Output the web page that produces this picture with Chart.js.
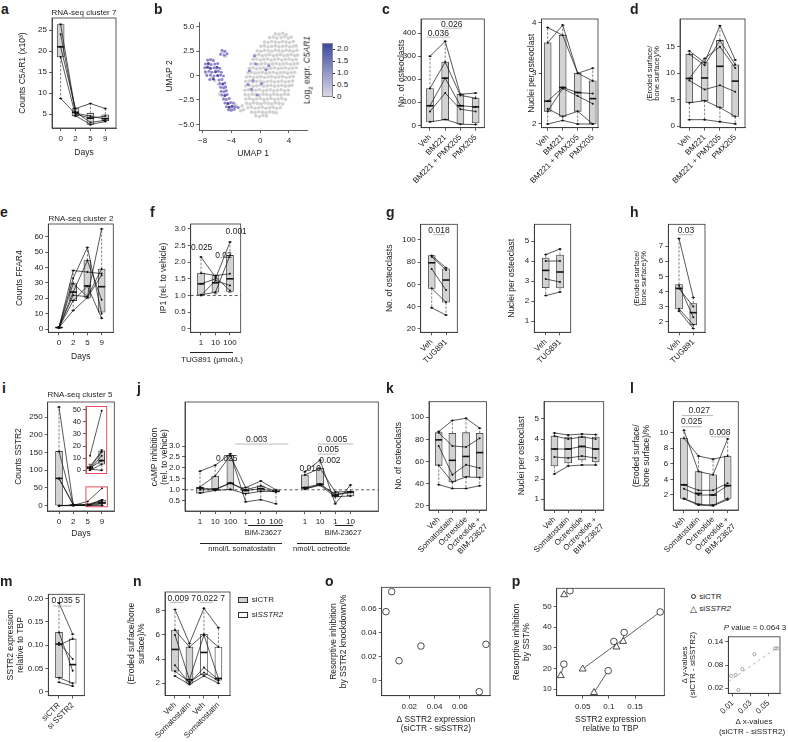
<!DOCTYPE html>
<html><head><meta charset="utf-8">
<script src="https://cdn.jsdelivr.net/npm/chart.js@4.4.0/dist/chart.umd.min.js"></script>
<style>
body{margin:0;background:#fff;}
#fig{position:relative;width:788px;height:742px;overflow:hidden;font-family:"Liberation Sans",Arial,sans-serif;color:#222;}
#fig canvas{position:absolute;}
.t{position:absolute;font-size:8px;white-space:nowrap;line-height:1;}
.L{position:absolute;font-weight:bold;font-size:14px;line-height:1;}
.hl{position:absolute;border-top:1px solid #222;height:0;}
</style></head><body><div id="fig"></div>
<script>
// ---------- data ----------
const dayPos = [1,2,3,4], dayLabels = ['0','2','5','9'];
const pos4 = [1,2,3,4], pos3 = [1,2,3], pos2 = [1,2];

// a: RNA-seq cluster 7 (C5AR1 counts x10^3), boxes = [min,q1,med,q3,max]
const aBoxes = [[8.7,18.6,21,26.3,26.4],[4.4,4.6,5.4,6.3,6.3],[2.4,2.5,4.0,5.2,7.5],[3.2,3.4,3.9,4.8,6.3]];
const aDonors = [[26.3,5.5,3.0,3.5],[24,5.2,4.5,3.8],[21,6.3,7.5,6.3],[18.6,4.6,2.5,3.2],[8.7,5.0,4.0,4.5]];

// b: UMAP
const umapGrey = [[2.1,4.3],[2.6,4.25],[3.1,4.35],[3.6,4.2],
 [1.3,3.9],[1.8,3.95],[2.3,3.85],[2.9,3.9],[3.4,4.0],[3.9,3.85],[4.3,3.95],
 [0.6,3.45],[1.1,3.4],[1.6,3.5],[2.1,3.45],[2.6,3.4],[3.1,3.5],[3.6,3.45],[4.1,3.4],[4.6,3.5],
 [0.1,3.0],[0.6,3.05],[1.1,2.95],[1.6,3.0],[2.1,3.05],[2.6,2.95],[3.1,3.0],[3.6,3.05],[4.1,2.95],[4.6,3.0],[5.0,3.05],
 [-0.4,2.55],[0.1,2.5],[0.6,2.6],[1.1,2.55],[1.6,2.5],[2.1,2.6],[2.6,2.55],[3.1,2.5],[3.6,2.6],[4.1,2.55],[4.6,2.5],[5.1,2.6],
 [-0.7,2.1],[-0.2,2.15],[0.3,2.05],[0.8,2.1],[1.3,2.15],[1.8,2.05],[2.3,2.1],[2.8,2.15],[3.3,2.05],[3.8,2.1],[4.3,2.15],[4.8,2.05],[5.2,2.1],
 [-1.0,1.65],[-0.5,1.7],[0.0,1.6],[0.5,1.65],[1.0,1.7],[1.5,1.6],[2.0,1.65],[2.5,1.7],[3.0,1.6],[3.5,1.65],[4.0,1.7],[4.5,1.6],[5.0,1.65],
 [-1.3,1.2],[-0.8,1.25],[-0.3,1.15],[0.2,1.2],[0.7,1.25],[1.2,1.15],[1.7,1.2],[2.2,1.25],[2.7,1.15],[3.2,1.2],[3.7,1.25],[4.2,1.15],[4.7,1.2],[5.2,1.25],
 [-1.5,0.75],[-1.0,0.8],[-0.5,0.7],[0.0,0.75],[0.5,0.8],[1.0,0.7],[1.5,0.75],[2.0,0.8],[2.5,0.7],[3.0,0.75],[3.5,0.8],[4.0,0.7],[4.5,0.75],[5.0,0.8],
 [-1.7,0.3],[-1.2,0.35],[-0.7,0.25],[-0.2,0.3],[0.3,0.35],[0.8,0.25],[1.3,0.3],[1.8,0.35],[2.3,0.25],[2.8,0.3],[3.3,0.35],[3.8,0.25],[4.3,0.3],[4.8,0.35],
 [-1.9,-0.15],[-1.4,-0.1],[-0.9,-0.2],[-0.4,-0.15],[0.1,-0.1],[0.6,-0.2],[1.1,-0.15],[1.6,-0.1],[2.1,-0.2],[2.6,-0.15],[3.1,-0.1],[3.6,-0.2],[4.1,-0.15],[4.6,-0.1],
 [-2.0,-0.6],[-1.5,-0.55],[-1.0,-0.65],[-0.5,-0.6],[0.0,-0.55],[0.5,-0.65],[1.0,-0.6],[1.5,-0.55],[2.0,-0.65],[2.5,-0.6],[3.0,-0.55],[3.5,-0.65],[4.0,-0.6],[4.5,-0.55],
 [-2.0,-1.05],[-1.5,-1.0],[-1.0,-1.1],[-0.5,-1.05],[0.0,-1.0],[0.5,-1.1],[1.0,-1.05],[1.5,-1.0],[2.0,-1.1],[2.5,-1.05],[3.0,-1.0],[3.5,-1.1],[4.0,-1.05],[4.4,-1.0],
 [-2.1,-1.5],[-1.6,-1.45],[-1.1,-1.55],[-0.6,-1.5],[-0.1,-1.45],[0.4,-1.55],[0.9,-1.5],[1.4,-1.45],[1.9,-1.55],[2.4,-1.5],[2.9,-1.45],[3.4,-1.55],[3.9,-1.5],
 [-2.1,-1.95],[-1.6,-2.0],[-1.1,-1.9],[-0.6,-1.95],[-0.1,-2.0],[0.4,-1.9],[0.9,-1.95],[1.4,-2.0],[1.9,-1.9],[2.4,-1.95],[2.9,-2.0],[3.4,-1.9],[3.9,-1.95],
 [-2.0,-2.4],[-1.5,-2.35],[-1.0,-2.45],[-0.5,-2.4],[0.0,-2.35],[0.5,-2.45],[1.0,-2.4],[1.5,-2.35],[2.0,-2.45],[2.5,-2.4],[3.0,-2.35],[3.5,-2.45],
 [-1.9,-2.85],[-1.4,-2.9],[-0.9,-2.8],[-0.4,-2.85],[0.1,-2.9],[0.6,-2.8],[1.1,-2.85],[1.6,-2.9],[2.1,-2.8],[2.6,-2.85],[3.1,-2.9],
 [-1.7,-3.3],[-1.2,-3.25],[-0.7,-3.35],[-0.2,-3.3],[0.3,-3.25],[0.8,-3.35],[1.3,-3.3],[1.8,-3.25],[2.3,-3.35],[2.8,-3.3],
 [-1.2,-3.75],[-0.7,-3.8],[-0.2,-3.7],[0.3,-3.75],[0.8,-3.8],[1.3,-3.7],[1.8,-3.75],[2.2,-3.8],
 [-0.6,-4.15],[-0.1,-4.2],[0.4,-4.1],[0.9,-4.15],
 [-2.5,-3.1],[-3.0,-3.3],[-2.7,-3.6],[-3.4,-3.0],[-2.3,-3.5],[-7.2,1.1],[-6.6,1.6],[-6.1,0.6],[-6.7,-0.2],[-5.8,-0.9],
 [-5.2,2.4],[-4.8,2.0],[-5.6,-1.9],[-4.4,-2.9],[-3.8,-3.4],[-4.9,-1.3],[-7.5,0.2],[-6.3,-0.5],[-5.0,-2.4],[-4.2,-3.5]];
const umapPurple = [[-5.3,2.6],[-4.9,2.5],[-5.0,2.1],[-4.6,2.25],[-5.5,2.2],
 [-7.3,1.6],[-6.9,1.65],[-6.5,1.55],[-7.6,1.2],[-6.8,1.15],[-6.3,1.2],[-5.9,1.25],
 [-7.7,0.8],[-6.4,0.8],[-5.6,0.75],[-7.6,0.4],[-7.1,0.45],[-6.7,0.35],[-5.8,0.45],[-5.4,0.35],
 [-7.4,0.0],[-6.9,0.05],[-6.4,-0.05],[-5.5,0.05],[-5.1,-0.05],[-7.0,-0.4],[-5.7,-0.45],[-5.3,-0.4],
 [-5.6,-0.8],[-4.9,-0.75],[-5.5,-1.2],[-5.1,-1.25],[-4.8,-1.15],[-5.4,-1.6],[-5.0,-1.65],[-4.7,-1.55],
 [-5.3,-2.0],[-4.6,-1.95],[-5.1,-2.4],[-4.7,-2.45],[-4.3,-2.35],[-4.9,-2.8],[-4.1,-2.75],[-3.7,-2.8],
 [-4.7,-3.2],[-3.5,-3.2],[-3.1,-3.25],[-4.4,-3.5],[-4.0,-3.55],[-3.6,-3.45],
 [-1.5,0.5],[-1.0,-0.5],[-0.6,1.2],[-1.2,-1.4],[0.8,0.6],[-0.4,-2.0],[-1.7,-0.9],[0.2,-0.8],[1.2,1.0],[-0.8,2.0]];
const umapPurpleDk = [[-7.2,1.25],[-6.9,0.75],[-6.2,0.4],[-5.9,0.0],[-6.5,-0.35],[-5.2,-0.85],[-4.9,-2.05],
 [-4.5,-2.85],[-4.3,-3.25],[-3.9,-3.15],[-7.3,0.85],[-6.0,0.85]];

// c
const cLabels = ['Veh','BM221','BM221 + PMX205','PMX205'];
const cOcBoxes = [[15,15,85,160,300],[25,25,205,275,365],[5,5,85,135,135],[3,10,80,118,140]];
const cOcDonors = [[300,365,135,140],[160,275,130,118],[85,205,85,80],[60,140,70,60],[15,25,5,3]];
const cNuBoxes = [[2.0,2.25,2.45,3.6,3.9],[2.07,2.15,2.72,3.75,3.95],[2.0,2.25,2.62,3.0,3.0],[2.0,2.0,2.5,2.85,3.1]];
const cNuDonors = [[3.9,3.75,3.0,3.1],[3.6,3.95,3.0,2.85],[2.45,2.72,2.62,2.6],[2.25,2.7,2.55,2.4],[2.0,2.07,2.0,2.0],[2.3,2.15,2.25,2.0]];
// d
const dBoxes = [[1.2,4.4,9.0,13.6,14.2],[1.2,4.8,9.1,12.0,12.8],[0.8,3.5,11.3,16.2,19.0],[0.4,1.8,8.5,11.6,12.5]];
const dDonors = [[14.2,12.0,19.0,12.5],[13.6,11.5,16.2,11.6],[9.0,12.8,15.0,11.0],[8.6,6.9,7.7,6.5],[4.4,4.8,3.5,1.8],[1.2,1.2,0.8,0.4]];
// e
const eBoxes = [[0.5,0.8,1,1.3,1.5],[12,18.5,24,29.5,38],[20,20.5,28,44.5,53],[7,11,27.5,39,65]];
const eDonors = [[1,38,37,36],[1,33,53,10],[1,29.5,21,65],[1,24,44.5,19],[1,22,21,39],[1,18.5,28,7],[1,12,20.5,35]];
// f
const fLabels = ['1','10','100'];
const fBoxes = [[1.0,1.02,1.35,1.67,2.15],[1.05,1.1,1.38,1.6,1.6],[1.1,1.12,1.5,2.2,2.6]];
const fDonors = [[2.15,1.55,1.15],[1.67,1.6,1.65],[1.35,1.5,2.6],[1.02,1.1,2.2],[1.0,1.45,1.3]];
// g, h
const gLabels = ['Veh','TUG891'];
const gOcBoxes = [[39,56.5,79.5,86,86],[32.5,44,64,74,75]];
const gOcDonors = [[86,75],[85,73],[74,55],[56.5,44],[39,32.5]];
const gNuBoxes = [[2.27,2.67,3.53,4.15,4.32],[2.45,2.65,3.45,4.3,4.6]];
const gNuDonors = [[4.32,4.6],[4.0,4.0],[3.1,2.95],[2.27,2.45]];
const hBoxes = [[2.7,2.85,4.2,4.45,7.5],[1.55,1.8,2.6,3.2,3.6]];
const hDonors = [[7.5,3.6],[4.4,2.3],[4.2,3.0],[2.85,1.8],[2.7,1.55]];
// i
const iBoxes = [[0,0,77,153,278],[0,0.5,1.5,2.5,3.5],[0,1,2,3.5,5],[0,5,8,16,17]];
const iDonors = [[278,1,12,49],[153,2,3,16],[77,3,2,15],[77,1,1,12],[0,0,2,8],[0,2,0,5],[0,1,1,0]];
const iInsetPos = [3,4];
const iInsetBoxes = [[0,1,2,3.5,5],[0,5,8,16,17]];
const iInsetDonors = [[12,49],[3,16],[2,15],[1,12],[2,8],[0,5],[1,0]];
// j
const jPos = [1,2,3,4,5,6,7.9,8.9,9.9,10.9];
const jLabels = ['1','10','100','1','10','100','1','10','1','10'];
const jBoxes = [[0.85,0.85,1.08,1.13,1.85],[0.97,1.0,1.03,1.63,2.12],[1.0,1.02,1.3,2.57,2.65],[0.45,0.82,0.97,1.1,1.1],[0.55,0.93,1.05,1.18,1.4],
  [0.36,0.9,0.93,1.0,1.0],[1.03,1.05,1.1,1.68,1.82],[1.2,1.2,1.26,1.98,2.35],[0.36,0.68,0.75,0.9,0.9],[0.72,0.72,0.9,0.92,1.22]];
const jSstDonors = [[1.85,2.12,2.65,0.45,0.55,0.36],[1.13,1.63,2.57,1.1,1.4,1.0],[1.08,1.03,1.32,1.0,1.18,0.93],[1.0,1.0,1.3,0.97,1.05,0.9],[0.85,0.97,1.02,0.82,0.93,0.92]];
const jOctDonors = [[1.82,2.35,0.36,1.22],[1.68,1.98,0.9,0.92],[1.1,1.26,0.75,0.9],[1.05,1.2,0.68,0.72],[1.03,1.25,0.8,0.88]];
// k, l
const kLabels = ['Veh','Somatostatin','Octreotide',['Octreotide +','BIM-23627']];
const kOcBoxes = [[39,56.5,79.5,86,87],[35.5,41.5,61,85.5,97],[35.5,46,64.5,86,99],[38,45.5,68,85.5,90]];
const kOcDonors = [[87,97,99,90],[86,74,73,81],[74,48,57,54],[56.5,41.5,46,45.5],[39,35.5,35.5,38]];
const kNuBoxes = [[2.25,2.65,3.5,4.15,4.3],[2.65,2.8,3.5,4.1,4.2],[2.7,2.95,3.63,4.12,4.25],[2.7,2.85,3.5,4.1,4.22]];
const kNuDonors = [[4.3,4.2,4.25,4.22],[4.15,4.0,4.1,4.0],[3.1,3.05,3.15,3.05],[2.25,2.65,2.7,2.7],[3.5,3.5,3.63,3.5]];
const lBoxes = [[1.5,1.55,3.3,9.3,10.3],[0.7,0.8,2.2,5.0,7.0],[0.6,0.7,2.0,4.6,6.6],[1.4,1.55,3.2,7.0,9.2]];
const lDonors = [[10.3,5.0,4.6,9.2],[9.3,7.0,6.6,7.0],[3.3,2.6,2.6,3.5],[2.8,2.0,2.0,3.2],[1.55,0.8,0.7,1.55],[1.5,0.7,0.6,1.4]];
// m, n
const mLabels = ['siCTR','si SSTR2'];
const mBoxes = [[0.02,0.03,0.102,0.127,0.19],[0.012,0.018,0.058,0.113,0.123]];
const mDonors = [[0.19,0.123],[0.127,0.045],[0.105,0.07],[0.10,0.113],[0.03,0.018],[0.02,0.012]];
const nLabels = ['Veh','Somatostatin','Veh','Somatostatin'];
const nBoxes = [[2.6,3.0,4.8,6.4,8.1],[1.9,2.0,2.3,5.0,5.3],[2.6,2.7,4.55,6.05,8.2],[2.0,2.25,2.4,5.0,6.6]];
const nDonors = [[8.1,5.3,8.2,6.6],[6.4,5.0,6.05,5.0],[6.0,2.3,6.0,2.4],[3.5,2.0,3.3,2.3],[3.0,2.1,2.9,2.2],[2.6,1.9,2.6,2.0]];
// o, p
const oX = [0.0061,0.0016,0.0119,0.0292,0.0806,0.0753];
const oY = [0.0739,0.0573,0.0166,0.0288,0.0302,-0.0091];
const pCtrX = [0.0258,0.0141,0.0987,0.1096,0.1292,0.198];
const pCtrY = [57.7,22.1,18.9,33.1,37.5,47.4];
const pKdX = [0.0146,0.0082,0.0716,0.1146,0.1273,0.05];
const pKdY = [55.8,16.5,8.3,30.4,33.1,19.7];
const pInsX = [0.0575,0.060,0.0343,0.0208,0.0134,0.0081,0.0163];
const pInsY = [0.123,0.123,0.1075,0.0696,0.0542,0.0524,0.0155];
const pFitX = [0.0051,0.0612], pFitY = [0.037,0.127];

// ---------- drawing ----------
const FONT = '"Liberation Sans", Arial, sans-serif';
Chart.defaults.font.family = FONT;
Chart.defaults.font.size = 8;
Chart.defaults.color = '#222';
const fig = document.getElementById('fig');
const GREY = '#d3d3d3';

function canvasAt(x,y,w,h){
  const c=document.createElement('canvas');
  c.width=w; c.height=h;
  Object.assign(c.style,{left:x+'px',top:y+'px',width:w+'px',height:h+'px'});
  fig.appendChild(c); return c;
}
function ln(g,x1,y1,x2,y2){ g.beginPath(); g.moveTo(x1,y1); g.lineTo(x2,y2); g.stroke(); }

function deco(p){
  const bw=p.bw||7;
  return {id:'deco',
    beforeDatasetsDraw(c){
      const g=c.ctx,X=c.scales.x,Y=c.scales.y,a=c.chartArea;
      g.save(); g.lineWidth=0.8; g.strokeStyle='#333';
      (p.hl||[]).forEach(v=>{ g.setLineDash([3,2.5]); const y=Y.getPixelForValue(v); ln(g,a.left,y,a.right,y); });
      (p.box||[]).forEach((b,i)=>{
        const x=X.getPixelForValue(p.pos[i]);
        g.setLineDash([2.5,1.5]); g.strokeStyle='#666';
        ln(g,x,Y.getPixelForValue(b[3]),x,Y.getPixelForValue(b[4]));
        ln(g,x,Y.getPixelForValue(b[1]),x,Y.getPixelForValue(b[0]));
        g.setLineDash([]); g.strokeStyle='#333';
        [b[0],b[4]].forEach(v=>{ const y=Y.getPixelForValue(v); ln(g,x-bw/4,y,x+bw/4,y); });
      });
      g.restore();
    },
    afterDatasetsDraw(c){
      const g=c.ctx,X=c.scales.x,Y=c.scales.y,a=c.chartArea;
      g.save();
      g.strokeStyle='#111'; g.lineWidth=1.6;
      (p.box||[]).forEach((b,i)=>{ const x=X.getPixelForValue(p.pos[i]),y=Y.getPixelForValue(b[2]); ln(g,x-bw/2,y,x+bw/2,y); });
      if(p.frame!==false){ g.strokeStyle=p.frameColor||'#333'; g.lineWidth=p.frameW||0.8; g.strokeRect(a.left,a.top,a.right-a.left,a.bottom-a.top); }
      (p.rects||[]).forEach(r=>{ g.strokeStyle='#e0505a'; g.lineWidth=1;
        const x1=X.getPixelForValue(r[0]),x2=X.getPixelForValue(r[1]),y1=Y.getPixelForValue(r[3]),y2=Y.getPixelForValue(r[2]);
        g.strokeRect(x1,y1,x2-x1,y2-y1); });
      g.strokeStyle='#9a9a9a'; g.lineWidth=0.7;
      (p.segs||[]).forEach(s=>{ const y=Y.getPixelForValue(s[2]); ln(g,X.getPixelForValue(s[0]),y,X.getPixelForValue(s[1]),y); });
      g.fillStyle='#222'; g.font='8.5px '+FONT; g.textAlign='center'; g.textBaseline='middle';
      (p.texts||[]).forEach(t=>g.fillText(t[0],X.getPixelForValue(t[1]),Y.getPixelForValue(t[2])));
      g.restore();
    }};
}

function panel(p){
  const [L,T,R,B]=p.plot;
  const cv=canvasAt(p.cx,p.cy,p.cw,p.ch);
  const bottom=p.cy+p.ch;
  const mk=(a,isX)=>{
    const fs=a.fs||8, lh=a.lh||9.5;
    const s={type:'linear',min:a.min,max:a.max,offset:false,
      afterBuildTicks:sc=>{ sc.ticks=(a.ticks||[]).map(v=>({value:v})); },
      afterFit:isX?(sc=>{ sc.height=bottom-B; }):(sc=>{ sc.width=L-p.cx; }),
      ticks:{display:!a.hide,autoSkip:false,maxRotation:a.rot||0,minRotation:a.rot||0,padding:a.pad??2,color:'#222',
        font:{size:fs},callback:(v,i)=>a.labels[i]},
      grid:{display:!a.hide,drawOnChartArea:false,drawTicks:true,tickLength:3,color:a.col||'#333',lineWidth:0.8,offset:false},
      border:{display:!a.hide,color:a.col||'#333',width:0.8}};
    if(a.title){
      const n=Array.isArray(a.title)?a.title.length:1;
      s.title={display:true,text:a.title,color:'#222',font:{size:a.tfs||8.5,lineHeight:lh+'px'},
        padding:isX?{top:0,bottom:bottom-a.tpos-lh*(n-1)-lh/2}:{top:a.tpos-p.cx-lh/2,bottom:0}};
    }
    return s;
  };
  return new Chart(cv,{type:p.type||'bar',data:{datasets:p.datasets},
    options:{responsive:false,devicePixelRatio:1,animation:false,events:[],
      layout:{autoPadding:false,padding:{left:0,top:T-p.cy,right:p.cx+p.cw-R,bottom:0}},
      scales:{x:mk(p.x,true),y:mk(p.y,false)},
      plugins:{legend:{display:false},tooltip:{enabled:false}}},
    plugins:[deco(p)]});
}

function lineSet(xs,ys,extra){
  return Object.assign({type:'line',data:ys.map((v,i)=>({x:xs[i],y:v})),borderColor:'#111',borderWidth:0.7,
    pointRadius:1,pointBackgroundColor:'#111',pointBorderWidth:0,order:1},extra||{});
}
function boxPanel(p){
  const ds=[{type:'bar',data:p.box.map((b,i)=>({x:p.pos[i],y:[b[1],b[3]]})),backgroundColor:p.fill||GREY,
    borderColor:'#333',borderWidth:0.8,borderSkipped:false,barThickness:p.bw||7,grouped:false,order:3}];
  (p.lines||[[p.pos,p.donors]]).forEach(([ps,dn])=>dn.forEach(d=>ds.push(lineSet(ps,d))));
  p.datasets=ds; p.type='bar';
  return panel(p);
}
const pts=(xs,ys)=>xs.map((x,i)=>({x,y:ys[i]}));
const pairs=arr=>arr.map(([x,y])=>({x,y}));

// HTML text helpers
function txt(s,x,y,o={}){
  const d=document.createElement('div'); d.className='t'; d.innerHTML=s;
  d.style.left=x+'px'; d.style.top=y+'px'; d.style.fontSize=(o.fs||8)+'px';
  let tr=o.al==='l'?'translate(0,-50%)':'translate(-50%,-50%)';
  if(o.rot) tr+=' rotate(-90deg)';
  d.style.transform=tr; fig.appendChild(d); return d;
}
function letter(ch,x,base){ const d=document.createElement('div'); d.className='L'; d.textContent=ch; d.style.left=x+'px'; d.style.top=(base-11.9)+'px'; fig.appendChild(d); }
function hline(x1,x2,y){ const d=document.createElement('div'); d.className='hl'; Object.assign(d.style,{left:x1+'px',top:y+'px',width:(x2-x1)+'px'}); fig.appendChild(d); }

// ---- a
boxPanel({plot:[52,18,116,128],cx:18,cy:10,cw:104,ch:149,pos:dayPos,box:aBoxes,donors:aDonors,
  x:{min:0.42,max:4.72,ticks:dayPos,labels:dayLabels,pad:3,title:'Days',tpos:153},
  y:{min:1.67,max:27.86,ticks:[5,10,15,20,25],labels:['5','10','15','20','25'],title:'Counts C5AR1 (x10³)',tpos:23}});
// ---- b
panel({type:'scatter',plot:[199.3,22,307,130],cx:165,cy:15,cw:145,ch:144,frame:false,
  datasets:[
    {data:pairs(umapGrey),pointRadius:1.8,pointBackgroundColor:'#d2d2d2',pointBorderWidth:0,order:3},
    {data:pairs(umapPurple),pointRadius:1.5,pointBackgroundColor:'#8d84cc',pointBorderWidth:0,order:2},
    {data:pairs(umapPurpleDk),pointRadius:1.5,pointBackgroundColor:'#5049a8',pointBorderWidth:0,order:1}],
  x:{min:-8.45,max:6.5,ticks:[-8,-4,0,4],labels:['−8','−4','0','4'],pad:3,title:'UMAP 1',tpos:153.3},
  y:{min:-5.58,max:5.5,ticks:[-5,-2.5,0,2.5,5],labels:['−5.0','−2.5','0','2.5','5.0'],title:'UMAP 2',tpos:170}});
// ---- c
boxPanel({plot:[421,19,484.3,127.7],cx:396,cy:10,cw:94,ch:175,pos:pos4,box:cOcBoxes,donors:cOcDonors,
  texts:[['0.036',1.55,400],['0.026',2.43,439]],segs:[[0.78,2.32,383],[1.88,3.09,422]],
  x:{min:0.41,max:4.57,ticks:pos4,labels:cLabels,rot:45,pad:2},
  y:{min:-10.4,max:462,ticks:[0,100,200,300,400],labels:['0','100','200','300','400'],title:'No. of osteoclasts',tpos:401.7}});
boxPanel({plot:[541.5,19,598,127.7],cx:526,cy:10,cw:78,ch:175,pos:pos4,box:cNuBoxes,donors:cNuDonors,
  x:{min:0.59,max:4.35,ticks:pos4,labels:cLabels,rot:45,pad:2},
  y:{min:1.927,max:4.07,ticks:[2,3,4],labels:['2','3','4'],title:'Nuclei per osteoclast',tpos:531.7}});
// ---- d
boxPanel({plot:[680,19,745,127.7],cx:645,cy:10,cw:107,ch:175,pos:pos4,box:dBoxes,donors:dDonors,
  x:{min:0.39,max:4.64,ticks:pos4,labels:cLabels,rot:45,pad:2},
  y:{min:-0.32,max:20.26,ticks:[0,5,10,15],labels:['0','5','10','15'],title:['(Eroded surface/','bone surface)/%'],tpos:650,lh:7,tfs:7.5}});
// ---- e
boxPanel({plot:[48.3,224,113.3,332.3],cx:15,cy:215,cw:105,ch:147,pos:dayPos,box:eBoxes,donors:eDonors,
  x:{min:0.25,max:4.82,ticks:dayPos,labels:dayLabels,pad:3,title:'Days',tpos:356.7},
  y:{min:-2.1,max:68.2,ticks:[0,10,20,30,40,50,60],labels:['0','10','20','30','40','50','60'],title:'Counts FFAR4',tpos:20}});
// ---- f
boxPanel({plot:[190.7,224,240.7,332.3],cx:158,cy:215,cw:88,ch:140,pos:pos3,box:fBoxes,donors:fDonors,hl:[1],
  texts:[['0.025',1.05,2.44],['0.02',2.55,2.19],['0.001',3.43,2.9]],
  x:{min:0.29,max:3.74,ticks:pos3,labels:fLabels,pad:3},
  y:{min:-0.1,max:3.14,ticks:[0,0.5,1,1.5,2,2.5,3],labels:['0','0.5','1.0','1.5','2.0','2.5','3.0'],title:'IP1 (rel. to vehicle)',tpos:163.3}});
// ---- g
boxPanel({plot:[420.7,224.3,457.3,332.3],cx:385,cy:215,cw:78,ch:175,pos:pos2,box:gOcBoxes,donors:gOcDonors,
  texts:[['0.018',1.51,108.4]],segs:[[1.11,1.93,104.8]],
  x:{min:0.23,max:2.79,ticks:pos2,labels:gLabels,rot:45,pad:2},
  y:{min:17,max:114.1,ticks:[20,40,60,80,100],labels:['20','40','60','80','100'],title:'No. of osteoclasts',tpos:390}});
boxPanel({plot:[534.3,224.3,570.7,332.3],cx:506,cy:215,cw:70,ch:175,pos:pos2,box:gNuBoxes,donors:gNuDonors,
  x:{min:0.2,max:2.75,ticks:pos2,labels:gLabels,rot:45,pad:2},
  y:{min:0.435,max:5.835,ticks:[1,2,3,4,5],labels:['1','2','3','4','5'],title:'Nuclei per osteoclast',tpos:511.7}});
// ---- h
boxPanel({plot:[668.3,224.3,705,332.3],cx:632,cy:215,cw:80,ch:175,pos:pos2,box:hBoxes,donors:hDonors,
  texts:[['0.03',1.49,8.01]],segs:[[0.95,1.96,7.75]],
  x:{min:0.25,max:2.82,ticks:pos2,labels:gLabels,rot:45,pad:2},
  y:{min:1.3,max:8.44,ticks:[2,3,4,5,6,7],labels:['2','3','4','5','6','7'],title:['(Eroded surface/','bone surface)/%'],tpos:636.7,lh:7,tfs:7.5}});
// ---- i
boxPanel({plot:[47.7,402,114.3,511],cx:13,cy:392,cw:107,ch:148,pos:dayPos,box:iBoxes,donors:iDonors,
  rects:[[2.88,4.38,-3,53]],
  x:{min:0.21,max:4.86,ticks:dayPos,labels:dayLabels,pad:3,title:'Days',tpos:534},
  y:{min:-15,max:292.4,ticks:[0,50,100,150,200,250],labels:['0','50','100','150','200','250'],title:'Counts SSTR2',tpos:18.3}});
boxPanel({plot:[86,405,106.7,476.7],cx:70,cy:400,cw:40,ch:80,pos:iInsetPos,box:iInsetBoxes,donors:iInsetDonors,
  frameColor:'#e0505a',frameW:1,bw:6,
  x:{min:2.66,max:4.43,ticks:[],labels:[],hide:true},
  y:{min:-2.6,max:52.5,ticks:[0,10,20,30,40,50],labels:['0','10','20','30','40','50'],fs:7.5}});
// ---- j
boxPanel({plot:[185,402,378.3,511],cx:151,cy:392,cw:233,ch:140,pos:jPos,box:jBoxes,hl:[1],
  lines:[[jPos.slice(0,6),jSstDonors],[jPos.slice(6),jOctDonors]],
  texts:[['0.003',4.73,3.31],['0.025',2.76,2.44],['0.016',8.24,1.98],['0.002',9.55,2.33],['0.005',9.44,2.85],['0.005',9.99,3.31]],
  segs:[[3.3,6.81,3.09],[8.76,9.99,2.63],[8.76,11.09,3.09]],
  x:{min:0.013,max:12.73,ticks:jPos,labels:jLabels,pad:3},
  y:{min:0.032,max:5.01,ticks:[0.5,1,1.5,2,2.5,3],labels:['0.5','1.0','1.5','2.0','2.5','3.0']}});
// ---- k
boxPanel({plot:[429,401.7,490,510],cx:393,cy:392,cw:103,ch:180,pos:pos4,box:kOcBoxes,donors:kOcDonors,
  x:{min:0.29,max:4.5,ticks:pos4,labels:kLabels,rot:45,pad:2},
  y:{min:16.1,max:114,ticks:[20,40,60,80,100],labels:['20','40','60','80','100'],title:'No. of osteoclasts',tpos:398.3}});
boxPanel({plot:[544,401.7,606.7,510],cx:516,cy:392,cw:96,ch:180,pos:pos4,box:kNuBoxes,donors:kNuDonors,
  x:{min:0.24,max:4.58,ticks:pos4,labels:kLabels,rot:45,pad:2},
  y:{min:0.45,max:5.865,ticks:[1,2,3,4,5],labels:['1','2','3','4','5'],title:'Nuclei per osteoclast',tpos:521.7}});
// ---- l
boxPanel({plot:[673.3,401.7,738.3,510],cx:631,cy:392,cw:114,ch:180,pos:pos4,box:lBoxes,donors:lDonors,
  texts:[['0.027',2.05,12.8],['0.025',1.53,11.4],['0.008',3.47,10.04]],segs:[[0.84,3.0,12.2],[0.84,2.21,10.76],[2.85,4.15,9.47]],
  x:{min:0.27,max:4.73,ticks:pos4,labels:kLabels,rot:45,pad:2},
  y:{min:0.07,max:13.98,ticks:[2,4,6,8,10],labels:['2','4','6','8','10'],title:['(Eroded surface/','bone surface)/%'],tpos:636.7,lh:10}});
// ---- m
boxPanel({plot:[48.3,594.3,84.3,695.7],cx:4,cy:585,cw:86,ch:157,pos:pos2,box:mBoxes,donors:mDonors,fill:[GREY,'#ffffff'],
  texts:[['0.035 5',1.49,0.1949]],segs:[[0.58,1.93,0.1835]],
  x:{min:0.22,max:2.85,ticks:pos2,labels:mLabels,rot:45,pad:2},
  y:{min:-0.0086,max:0.2086,ticks:[0,0.05,0.1,0.15,0.2],labels:['0','0.05','0.10','0.15','0.20'],title:['SSTR2 expression','relative to TBP'],tpos:10.5,lh:10.5}});
// ---- n
boxPanel({plot:[165,592,230,695.5],cx:126,cy:585,cw:110,ch:157,pos:pos4,box:nBoxes,donors:nDonors,fill:[GREY,GREY,'#ffffff','#ffffff'],
  texts:[['0.009 7',1.47,9.02],['0.022 7',3.48,9.02]],segs:[[0.65,1.58,8.69],[2.74,3.62,8.69]],
  x:{min:0.31,max:4.8,ticks:pos4,labels:nLabels,rot:45,pad:2},
  y:{min:0.99,max:9.55,ticks:[2,4,6,8],labels:['2','4','6','8'],title:['(Eroded surface/bone','surface)/%'],tpos:131.7,lh:10}});
// ---- o
panel({type:'scatter',plot:[381.7,587.3,490,695.7],cx:328,cy:580,cw:168,ch:154,
  datasets:[{data:pts(oX,oY),pointRadius:3.3,pointBackgroundColor:'rgba(0,0,0,0)',pointBorderColor:'#222',pointBorderWidth:0.8}],
  x:{min:-0.0018,max:0.0838,ticks:[0.02,0.04,0.06],labels:['0.02','0.04','0.06'],pad:3,title:['Δ SSTR2 expression','(siCTR - siSSTR2)'],tpos:720,lh:8.5},
  y:{min:-0.0124,max:0.0775,ticks:[0,0.02,0.04,0.06],labels:['0','0.02','0.04','0.06'],title:['Resorptive inhibition','by SSTR2 knockdown/%'],tpos:333.3,lh:10}});
// ---- p
const pPairSets = pCtrX.map((x,i)=>lineSet([x,pKdX[i]],[pCtrY[i],pKdY[i]],{pointRadius:0,borderColor:'#222',order:3}));
panel({type:'scatter',plot:[556.7,588.3,664.3,695.7],cx:511,cy:580,cw:159,ch:154,
  datasets:[...pPairSets,
    {data:pts(pCtrX,pCtrY),pointRadius:3.3,pointBackgroundColor:'#fff',pointBorderColor:'#222',pointBorderWidth:0.8,order:1},
    {data:pts(pKdX,pKdY),pointStyle:'triangle',pointRadius:4,pointBackgroundColor:'#fff',pointBorderColor:'#222',pointBorderWidth:0.8,order:1}],
  x:{min:0.0004,max:0.2059,ticks:[0.05,0.1,0.15],labels:['0.05','0.1','0.15'],pad:3,title:['SSTR2 expression','relative to TBP'],tpos:720,lh:8.5},
  y:{min:6.75,max:58.9,ticks:[10,20,30,40,50],labels:['10','20','30','40','50'],title:['Resorptive inhibition','by SST/%'],tpos:516.7,lh:10}});
panel({type:'scatter',plot:[728.3,636.7,780,693.3],cx:700,cy:630,cw:86,ch:108,
  datasets:[lineSet(pFitX,pFitY,{pointRadius:0,borderColor:'#999',borderDash:[3,3],order:2}),
    {data:pts(pInsX,pInsY),pointRadius:1.6,pointBackgroundColor:'rgba(0,0,0,0)',pointBorderColor:'#888',pointBorderWidth:0.7,order:1}],
  x:{min:0.0051,max:0.0631,ticks:[0.01,0.03,0.05],labels:['0.01','0.03','0.05'],rot:45,pad:2},
  y:{min:0.007,max:0.1529,ticks:[0.02,0.08,0.14],labels:['0.02','0.08','0.14']}});

// ---------- free text ----------
[['a',1,14],['b',154,14],['c',382,14],['d',630,14],['e',0,216.7],['f',150,216.7],['g',386,216.7],['h',630,216.7],
 ['i',2,393],['j',137,393],['k',386,393],['l',630,393],['m',0,586],['n',133,586],['o',325,586],['p',511.7,586]]
 .forEach(([c,x,b])=>letter(c,x,b));
txt('RNA-seq cluster 7',84,13); txt('RNA-seq cluster 2',81,218.5); txt('RNA-seq cluster 5',80,394.5);
// j y-axis title
txt('cAMP inhibition',154,456.5,{rot:true,fs:8.5});
txt('(rel. to vehicle)',163.5,456.5,{rot:true,fs:8.5});
// colour bar (b)
const cb=document.createElement('div');
Object.assign(cb.style,{position:'absolute',left:'321.7px',top:'42.7px',width:'11px',height:'54px',
  background:'linear-gradient(to bottom,#3b4aa0,#d9d7e6)',border:'0.6px solid #888',boxSizing:'border-box'});
fig.appendChild(cb);
[['2.0',49.3],['1.5',61.1],['1.0',72.9],['0.5',84.7],['0',96.5]].forEach(([s,y])=>{ txt(s,337,y,{al:'l'}); hline(332.7,335,y); });
txt('Log<sub style="font-size:6px">2</sub> expr. <i>C5AR1</i>',308.3,70,{rot:true,fs:8.5});
// f bracket
hline(190,233,352); txt('TUG891 (μmol/L)',212,359.5);
// j brackets
hline(248,283,525.3); txt('BIM-23627',263,532.7,{fs:7.5});
hline(335,353,525.3); txt('BIM-23627',343,532.7,{fs:7.5});
hline(200,281.7,542.7); txt('nmol/L somatostatin',241.7,549.3,{fs:7.5});
hline(296.7,346.7,542.7); txt('nmol/L octreotide',321.7,549.3,{fs:7.5});
// n legend
[[596.7,GREY,'siCTR'],[611.7,'#fff','si<i>SSTR2</i>']].forEach(([y,c,s])=>{
  const sq=document.createElement('div');
  Object.assign(sq.style,{position:'absolute',left:'238.3px',top:y+'px',width:'10px',height:'6.6px',background:c,border:'0.8px solid #333',boxSizing:'border-box'});
  fig.appendChild(sq); txt(s,251.7,y+3.3,{al:'l'});
});
// p legend + inset titles
const pc=document.createElement('div');
Object.assign(pc.style,{position:'absolute',left:'690.5px',top:'593.9px',width:'5.6px',height:'5.6px',borderRadius:'50%',border:'0.8px solid #222',boxSizing:'border-box'});
fig.appendChild(pc);
txt('siCTR',699.3,596.7,{al:'l'});
txt('&#9651;',693.3,609,{fs:9}); txt('si<i>SSTR2</i>',699.3,609,{al:'l'});
txt('<i>P</i> value = 0.064 3',755,628.3);
txt('Δ y-values',684.5,665,{rot:true});
txt('(siCTR - siSSTR2)',693,665,{rot:true});
txt('Δ x-values',754,722.3);
txt('(siCTR - siSSTR2)',752,731.7);
</script></body></html>
